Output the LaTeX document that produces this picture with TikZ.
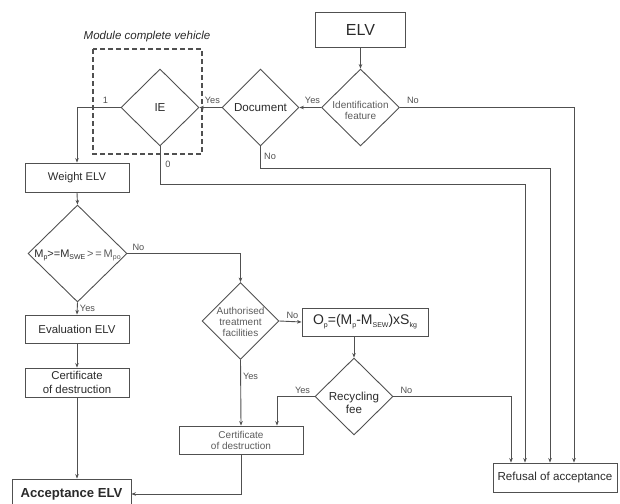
\documentclass[tikz,border=0pt]{standalone}
\usepackage{fontspec}
\setmainfont{Liberation Sans}
\usetikzlibrary{shapes.geometric,arrows.meta,calc}
\definecolor{ln}{HTML}{505050}
\definecolor{tx}{HTML}{2A2A2A}
\definecolor{lt}{HTML}{5C5C5C}
% small lowered index used in the formulas
\newcommand\sbs[1]{\raisebox{-0.22em}{\fontsize{7}{7}\selectfont #1}}
\begin{document}
\begin{tikzpicture}[x=1pt,y=-1pt,
  box/.style={draw=ln, line width=0.9pt, rectangle, inner sep=0pt, align=center, text=tx},
  dia/.style={draw=ln, line width=0.9pt, diamond, inner sep=0pt, minimum width=#1, minimum height=77pt},
  dtext/.style={align=center, text=tx, inner sep=0pt},
  arr/.style={draw=ln, line width=0.9pt, -{Stealth[length=4.5pt,width=3.6pt]}},
  lbl/.style={text=ln, font=\fontsize{9.2}{10}\selectfont, inner sep=0pt}
]
\useasboundingbox (0,0) rectangle (620,503);

% module frame
\draw[ln, line width=1.3pt, dash pattern=on 5pt off 3pt] (93,49) rectangle (202,154);
\node[text=tx, font=\fontsize{11.5}{12}\selectfont\itshape] (modlbl) at (147,37) {Module complete vehicle};

% boxes
\node[box, minimum width=90pt, minimum height=35pt, font=\fontsize{16}{18}\selectfont] (elv) at (360.5,29.5) {ELV};
\node[box, minimum width=104pt, minimum height=29pt, font=\fontsize{11.2}{13}\selectfont] (weight) at (77,177.5) {Weight ELV};
\node[box, minimum width=104pt, minimum height=28pt, font=\fontsize{11.4}{13}\selectfont] (eval) at (77,329) {Evaluation ELV};
\node[box, minimum width=104pt, minimum height=29pt, font=\fontsize{11.4}{13.3}\selectfont] (certa) at (77,382.5) {Certificate\\of destruction};
\node[box, minimum width=119pt, minimum height=30pt, font=\fontsize{13.1}{15}\selectfont\bfseries] (acc) at (71.5,494) {Acceptance ELV};
\node[box, minimum width=124pt, minimum height=28pt, text=lt, font=\fontsize{10}{11}\selectfont] (certb) at (241,440) {Certificate\\of destruction};
\node[box, minimum width=126pt, minimum height=28pt, font=\fontsize{14}{16}\selectfont] (op) at (365,322)
  {O\sbs{p}=(M\sbs{p}-M\sbs{SEW})xS\sbs{kg}};
\node[box, minimum width=124pt, minimum height=29pt, font=\fontsize{11.6}{13}\selectfont] (ref) at (555,477.5) {Refusal of acceptance};

% decisions
\node[dia=78pt] (idf) at (360.5,107.5) {};
\node[dtext, text=lt, font=\fontsize{10}{11}\selectfont] (idft) at (360.5,110.5) {Identification\\feature};
\node[dia=77pt] (doc) at (260.5,107.5) {};
\node[dtext, font=\fontsize{11.6}{13}\selectfont] (doct) at (doc.center) {Document};
\node[dia=78pt] (ie) at (160,107.5) {};
\node[dtext, font=\fontsize{11.6}{13}\selectfont] (iet) at (ie.center) {IE};
\node[dia=99pt, minimum height=97pt] (mdec) at (77.5,253.5) {};
\node[dtext, font=\fontsize{11}{13}\selectfont] (mdect) at (77.5,255.5)
  {M\sbs{p}>=M\sbs{SWE}{\color{lt}\,>\,=\,M\sbs{po}}};
\node[dia=77pt] (atf) at (240.5,321) {};
\node[dtext, text=lt, font=\fontsize{10}{11}\selectfont] (atft) at (240.5,322) {Authorised\\treatment\\facilities};
\node[dia=78pt] (rec) at (354,396.5) {};
\node[dtext, font=\fontsize{11.6}{13.3}\selectfont] (rect) at (354,402.5) {Recycling\\fee};

% connectors
\draw[arr] (elv.south) -- (idf.north);
\draw[arr] (idf.west) -- (doc.east);
\draw[arr] (doc.west) -- (ie.east);
\draw[arr] (ie.west) -| (weight.north);
\draw[arr] (ie.south) -- ++(0,37.5) -| ([xshift=-30pt]ref.north);
\draw[arr] (doc.south) -- ++(0,22) -| ([xshift=-5pt]ref.north);
\draw[arr] (idf.east) -| ([xshift=19pt]ref.north);
\draw[arr] (rec.east) -| ([xshift=-44pt]ref.north);
\draw[arr] (weight.south) -- (mdec.north);
\draw[arr] (mdec.south) -- (eval.north);
\draw[arr] (mdec.east) -| (atf.north);
\draw[arr] (atf.east) -- (op.west);
\draw[arr] (rec.north |- op.south) -- (rec.north);
\draw[arr] (rec.west) -| ([xshift=36pt]certb.north);
\draw[arr] (atf.south) -- (certb.north);
\draw[arr] (eval.south) -- (certa.north);
\draw[arr] (certa.south) -- (certa.south |- acc.north);
\draw[arr] (certb.south) |- (acc.east);

% branch labels
\node[lbl] (ly1) at ($(doc.east)+(13,-7.5)$) {Yes};
\node[lbl] (ly2) at ($(ie.east)+(13,-7.5)$) {Yes};
\node[lbl] (lone) at ($(ie.west)+(-15,-7.5)$) {1};
\node[lbl] (lzero) at ($(ie.south)+(8,18)$) {0};
\node[lbl] (ln1) at ($(doc.south)+(9.5,10)$) {No};
\node[lbl] (ln2) at ($(idf.east)+(13,-7.5)$) {No};
\node[lbl] (ln3) at ($(mdec.east)+(11,-6)$) {No};
\node[lbl] (ly3) at ($(mdec.south)+(10,6)$) {Yes};
\node[lbl] (ln4) at ($(atf.east)+(13,-5.5)$) {No};
\node[lbl] (ly4) at ($(atf.south)+(10,16)$) {Yes};
\node[lbl] (ly5) at ($(rec.west)+(-12,-6)$) {Yes};
\node[lbl] (ln5) at ($(rec.east)+(13,-6)$) {No};
\end{tikzpicture}
\end{document}
